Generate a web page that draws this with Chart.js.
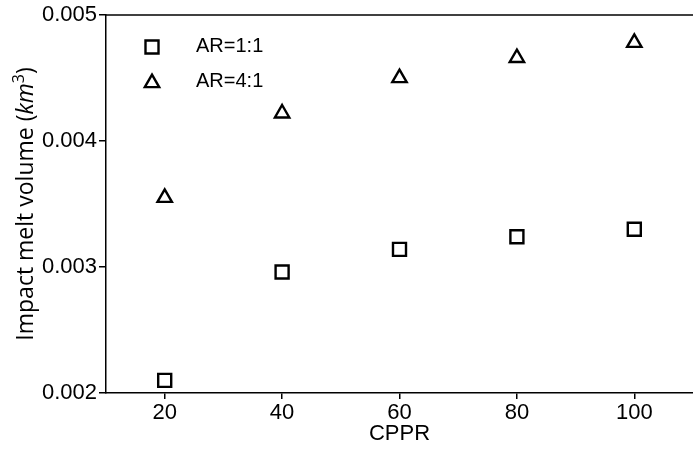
<!DOCTYPE html>
<html>
<head>
<meta charset="utf-8">
<script src="https://cdn.jsdelivr.net/npm/chart.js@4.4.1/dist/chart.umd.min.js"></script>
<style>
	html, body { margin: 0; padding: 0; background: #fff; }
	#wrap { width: 693px; height: 450px; }
</style>
</head>
<body>
<div id="wrap"><canvas id="melt-chart"></canvas></div>
<script>
/* Data. */
const cppr = [20, 40, 60, 80, 100];
const ar11 = [0.00210, 0.00296, 0.00314, 0.00324, 0.00330];
const ar41 = [0.00355, 0.00422, 0.00450, 0.00466, 0.00478];
const seriesLabels = ["AR=1:1", "AR=4:1"];
const xTicks = [20, 40, 60, 80, 100];
const yTicks = [0.002, 0.003, 0.004, 0.005];

const FONT = "'Liberation Sans', Arial, sans-serif";
const TITLE_FONT = "'Open Sans', sans-serif";

/* Top spine, y axis title and the inside legend. */
const extras = {
	id: "extras",
	afterDraw(chart) {
		const ctx = chart.ctx;
		const area = chart.chartArea;
		ctx.save();

		/* Top spine. */
		ctx.strokeStyle = "#000";
		ctx.lineWidth = 1.5;
		ctx.beginPath();
		ctx.moveTo(area.left, area.top);
		ctx.lineTo(chart.width, area.top);
		ctx.stroke();

		/* Y axis title with italic km and superscript 3. */
		const parts = [
			{ t: "Impact melt volume (", f: "23px " + TITLE_FONT, dy: 0 },
			{ t: "km", f: "italic 23px " + TITLE_FONT, dy: 0 },
			{ t: "3", f: "16px " + TITLE_FONT, dy: -9 },
			{ t: ")", f: "23px " + TITLE_FONT, dy: 0 },
		];
		let total = 0;
		parts.forEach(p => { ctx.font = p.f; p.w = ctx.measureText(p.t).width; total += p.w; });
		ctx.translate(33, 204);
		ctx.rotate(-Math.PI / 2);
		ctx.fillStyle = "#000";
		ctx.textBaseline = "alphabetic";
		ctx.textAlign = "left";
		let x = -total / 2;
		parts.forEach(p => {
			ctx.font = p.f;
			ctx.fillText(p.t, x, p.dy);
			x += p.w;
		});
		ctx.restore();

		/* Legend inside the plot. */
		ctx.save();
		const rows = [
			{ style: "rect", r: 9.2, y: 47 },
			{ style: "triangle", r: 8.3, y: 83 },
		];
		rows.forEach((row, i) => {
			ctx.strokeStyle = "#000";
			ctx.fillStyle = "rgba(0,0,0,0)";
			ctx.lineWidth = 2.4;
			Chart.helpers.drawPoint(ctx, { pointStyle: row.style, radius: row.r, rotation: 0, borderWidth: 2.4 }, 152, row.y);
			ctx.fillStyle = "#000";
			ctx.font = "20px " + FONT;
			ctx.textAlign = "left";
			ctx.textBaseline = "middle";
			ctx.fillText(seriesLabels[i], 196, i === 0 ? 46 : 81);
		});
		ctx.restore();
	},
};

const meltChart = new Chart(
	document.getElementById("melt-chart"),
	{
		type: "scatter",
		data:
		{
			datasets:
			[
				{
					label: seriesLabels[0],
					data: cppr.map((c, i) => ({ x: c, y: ar11[i] })),
					pointStyle: "rect",
					pointRadius: 9.2,
					pointHoverRadius: 9.2,
					borderColor: "#000",
					backgroundColor: "rgba(0,0,0,0)",
					borderWidth: 2.4,
				},
				{
					label: seriesLabels[1],
					data: cppr.map((c, i) => ({ x: c, y: ar41[i] })),
					pointStyle: "triangle",
					pointRadius: 8.3,
					pointHoverRadius: 8.3,
					borderColor: "#000",
					backgroundColor: "rgba(0,0,0,0)",
					borderWidth: 2.4,
				},
			],
		},
		options:
		{
			responsive: true,
			maintainAspectRatio: false,
			animation: false,
			layout: { autoPadding: false, padding: { top: 15, left: 0, right: 0, bottom: 0 } },
			plugins:
			{
				legend: { display: false },
				tooltip: { enabled: false },
			},
			scales:
			{
				x:
				{
					type: "linear",
					min: 10,
					max: 110,
					afterBuildTicks: (scale) => { scale.ticks = xTicks.map(v => ({ value: v })); },
					afterFit: (scale) => { scale.height = 57; scale.paddingLeft = 0; scale.paddingRight = 0; },
					grid: { drawOnChartArea: false, drawTicks: true, tickLength: 6, color: "#000", lineWidth: 1.5 },
					border: { display: true, color: "#000", width: 1.5 },
					ticks: { color: "#000", font: { family: FONT, size: 22 }, padding: 1, maxRotation: 0 },
					title: { display: true, text: "CPPR", color: "#000", font: { family: FONT, size: 22 }, padding: { top: 0, bottom: 3 } },
				},
				y:
				{
					type: "linear",
					min: 0.002,
					max: 0.005,
					afterBuildTicks: (scale) => { scale.ticks = yTicks.map(v => ({ value: v })); },
					afterFit: (scale) => { scale.width = 106; scale.paddingTop = 0; scale.paddingBottom = 0; },
					grid: { drawOnChartArea: false, drawTicks: true, tickLength: 7, color: "#000", lineWidth: 1.5 },
					border: { display: true, color: "#000", width: 1.5 },
					ticks: { color: "#000", font: { family: FONT, size: 22 }, padding: 2, callback: (v) => v.toFixed(3) },
				},
			},
		},
		plugins: [extras],
	}
);
</script>
</body>
</html>
